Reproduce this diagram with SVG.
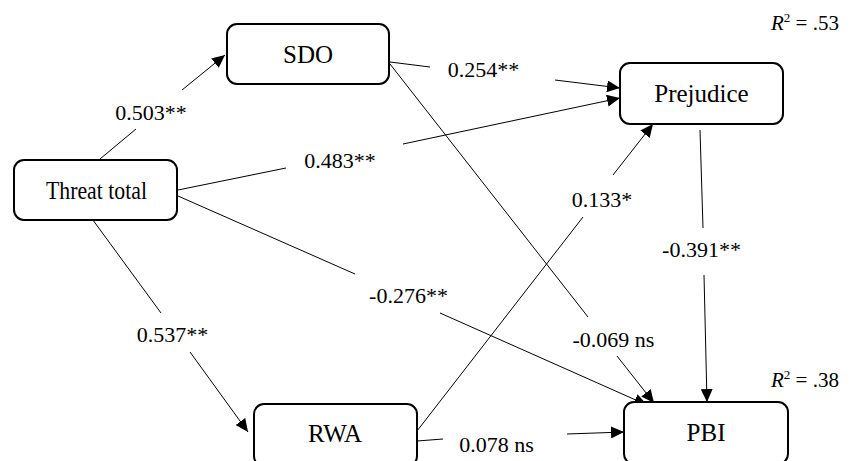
<svg xmlns="http://www.w3.org/2000/svg" width="857" height="461" viewBox="0 0 857 461">
<style>
.box{fill:#fff;stroke:#000;stroke-width:2}
.nt{font-family:'Liberation Serif','Times New Roman','DejaVu Serif',serif;font-size:25px;text-anchor:middle;fill:#000}
.lb{font-family:'Liberation Serif','Times New Roman','DejaVu Serif',serif;font-size:22px;text-anchor:middle;fill:#000}
.r2{font-family:'Liberation Serif','Times New Roman','DejaVu Serif',serif;font-size:21px;fill:#000}
.ln{fill:none;stroke:#000;stroke-width:1}
</style>
<defs>
<marker id="ah" markerUnits="userSpaceOnUse" markerWidth="14" markerHeight="12" refX="13" refY="6" orient="auto">
<path d="M0,0 L13,6 L0,12 z" fill="#000"/>
</marker>
</defs>
<rect width="857" height="461" fill="#fff"/>
<g id="connectors">
<line class="ln" x1="100" y1="159" x2="136" y2="129"/>
<line class="ln" x1="182" y1="90" x2="225" y2="55" marker-end="url(#ah)"/>
<line class="ln" x1="390" y1="62" x2="430" y2="67"/>
<line class="ln" x1="555" y1="80" x2="620" y2="88" marker-end="url(#ah)"/>
<line class="ln" x1="178" y1="190" x2="286" y2="168"/>
<line class="ln" x1="403" y1="144" x2="620" y2="98" marker-end="url(#ah)"/>
<line class="ln" x1="390" y1="64" x2="588" y2="317"/>
<line class="ln" x1="617" y1="356" x2="654" y2="403" marker-end="url(#ah)"/>
<line class="ln" x1="178" y1="196" x2="355" y2="274"/>
<line class="ln" x1="440" y1="313" x2="647" y2="405" marker-end="url(#ah)"/>
<line class="ln" x1="90" y1="216" x2="161" y2="313"/>
<line class="ln" x1="190" y1="352" x2="248" y2="432" marker-end="url(#ah)"/>
<line class="ln" x1="417" y1="431" x2="583" y2="217"/>
<line class="ln" x1="613" y1="175" x2="653" y2="124" marker-end="url(#ah)"/>
<line class="ln" x1="700" y1="130" x2="703" y2="228"/>
<line class="ln" x1="704" y1="275" x2="707" y2="402" marker-end="url(#ah)"/>
<line class="ln" x1="417" y1="441" x2="443" y2="439"/>
<line class="ln" x1="567" y1="434" x2="624" y2="432" marker-end="url(#ah)"/>
</g>
<g id="labels">
<text class="lb" x="151" y="120">0.503**</text>
<text class="lb" x="340" y="168">0.483**</text>
<text class="lb" x="483.5" y="77">0.254**</text>
<text class="lb" x="602" y="207">0.133*</text>
<text class="lb" x="701.5" y="257">-0.391**</text>
<text class="lb" x="408.5" y="303">-0.276**</text>
<text class="lb" x="172.5" y="342">0.537**</text>
<text class="lb" x="613.5" y="347">-0.069 ns</text>
<text class="lb" x="496.5" y="452">0.078 ns</text>
</g>
<g id="node-sdo">
<rect class="box" x="227" y="24" width="162" height="60" rx="10"/>
<text class="nt" x="308" y="63">SDO</text>
</g>
<g id="node-threat">
<rect class="box" x="14" y="160" width="163" height="60" rx="10"/>
<text class="nt" x="96.5" y="199" textLength="101" lengthAdjust="spacingAndGlyphs">Threat total</text>
</g>
<g id="node-prejudice">
<rect class="box" x="620" y="63" width="163" height="61" rx="10"/>
<text class="nt" x="701.5" y="102">Prejudice</text>
</g>
<g id="node-rwa">
<rect class="box" x="254" y="404" width="163" height="62" rx="10"/>
<text class="nt" x="335" y="442">RWA</text>
</g>
<g id="node-pbi">
<rect class="box" x="624" y="402" width="164" height="62" rx="10"/>
<text class="nt" x="706" y="441">PBI</text>
</g>
<g id="r2">
<text class="r2" x="771" y="30"><tspan font-style="italic">R</tspan><tspan font-size="13" dy="-8">2</tspan><tspan dy="8"> = .53</tspan></text>
<text class="r2" x="771" y="387"><tspan font-style="italic">R</tspan><tspan font-size="13" dy="-8">2</tspan><tspan dy="8"> = .38</tspan></text>
</g>
</svg>
